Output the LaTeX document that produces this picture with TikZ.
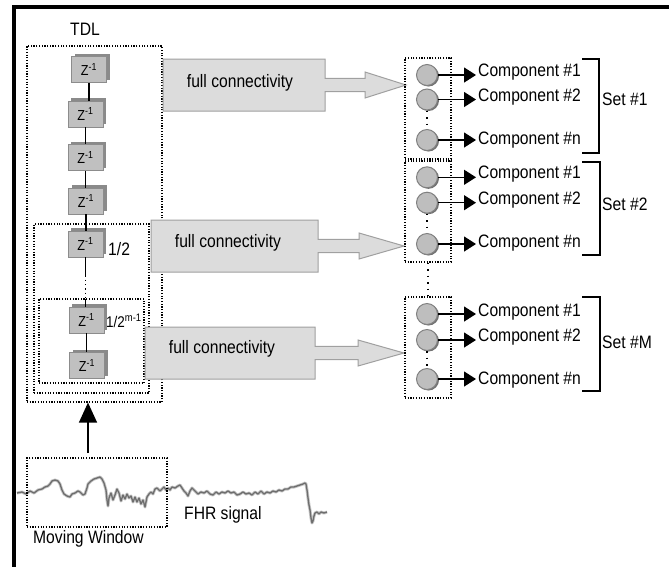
\documentclass[tikz,border=0pt]{standalone}
\usepackage{fontspec}
\setmainfont{Liberation Sans}[FakeStretch=0.87]
\usetikzlibrary{arrows.meta,shadows}
\definecolor{zfill}{HTML}{C0C0C0}
\definecolor{zborder}{HTML}{8C8C8C}
\definecolor{zshadow}{HTML}{8A8A8A}
\definecolor{afill}{HTML}{DCDCDC}
\definecolor{aborder}{HTML}{A0A0A0}
\definecolor{cfill}{HTML}{BEBEBE}
\definecolor{cborder}{HTML}{808080}
\definecolor{cshadow}{HTML}{707070}
\definecolor{wavec}{HTML}{6E6E6E}
\newcommand\fcArrow[5]{%
  \draw[bigarrow] (#1,#5-26) -- (#2,#5-26) -- (#2,#5-6.7) -- (#3,#5-6.7) -- (#3,#5-13) -- (#4,#5)
    -- (#3,#5+13) -- (#3,#5+6.7) -- (#2,#5+6.7) -- (#2,#5+26) -- (#1,#5+26) -- cycle;}
\tikzset{
  lbl/.style={inner sep=0pt, font=\fontsize{18}{20}\selectfont},
  dotbox/.style={draw, line width=1.2pt, dash pattern=on 1.2pt off 1.5pt, inner sep=0pt},
  zbox/.style={draw=zborder, fill=zfill, line width=0.8pt, minimum width=35pt, minimum height=26pt,
    inner sep=0pt, font=\fontsize{14.5}{16}\selectfont,
    general shadow={fill=zshadow, shadow xshift=3pt, shadow yshift=3pt}},
  unit/.style={circle, draw=cborder, fill=cfill, line width=1pt, minimum size=21pt, inner sep=0pt,
    general shadow={fill=cshadow, shadow xshift=1.5pt, shadow yshift=-1pt}},
  link/.style={line width=1.3pt},
  dotline/.style={line width=1.5pt, dash pattern=on 1.5pt off 5pt},
  outarrow/.style={line width=1.3pt, shorten >=2pt, -{Triangle[length=12pt,width=15pt]}},
  bigarrow/.style={draw=aborder, fill=afill, line width=1pt},
  brk/.style={line width=1.5pt},
  wave/.style={draw=wavec, line width=1.3pt, line join=round},
}
\begin{document}
\begin{tikzpicture}[x=1pt,y=-1pt]
\useasboundingbox (0,0) rectangle (669,566);
\fill[white] (0,0) rectangle (669,566);
% frame
\draw[line width=3.8pt] (14,590) -- (14,6.8) -- (690,6.8);

% FHR waveform
\draw[draw=gray!45, line width=3pt, line join=round] plot coordinates {(17,493) (22,492) (26,494) (30,491) (34,493) (38,490) (42,489) (45,487) (48,486) (50,484) (52,481) (55,480) (58,481) (60,484) (62,490) (64,494) (67,496) (70,497) (72,494) (75,493) (78,491) (80,492) (83,495) (85,494) (87,488) (88,484) (91,481) (94,479) (97,478) (100,477) (102,479) (104,483) (106,490) (107,500) (108,506) (109,498) (111,493) (113,500) (115,495) (117,489) (119,493) (121,501) (123,495) (125,499) (127,494) (129,498) (131,496) (133,502) (135,497) (137,502) (139,498) (141,504) (143,500) (145,507) (147,497) (149,494) (151,492) (153,494) (155,489) (157,488) (160,491) (162,489) (164,487) (166,490) (168,488) (170,490) (172,487) (175,488) (178,486) (180,485) (182,488) (184,491) (186,493) (188,496) (190,491) (192,488) (195,491) (198,494) (201,492) (204,493) (207,491) (210,494) (213,495) (216,492) (219,494) (222,492) (225,493) (228,491) (231,493) (234,492) (237,495) (240,494) (243,492) (246,494) (249,493) (252,495) (255,492) (258,494) (261,491) (264,494) (267,492) (270,493) (273,491) (276,492) (279,490) (282,491) (285,489) (288,489) (291,487) (294,487) (297,486) (300,485) (303,484) (305,483) (306,484) (307,490) (308,498) (309,505) (310,510) (311,518) (312,523) (313,521) (314,516) (315,513) (317,512) (319,514) (321,512) (324,513) (327,512)};
\draw[wave] plot coordinates {(17,493) (22,492) (26,494) (30,491) (34,493) (38,490) (42,489) (45,487) (48,486) (50,484) (52,481) (55,480) (58,481) (60,484) (62,490) (64,494) (67,496) (70,497) (72,494) (75,493) (78,491) (80,492) (83,495) (85,494) (87,488) (88,484) (91,481) (94,479) (97,478) (100,477) (102,479) (104,483) (106,490) (107,500) (108,506) (109,498) (111,493) (113,500) (115,495) (117,489) (119,493) (121,501) (123,495) (125,499) (127,494) (129,498) (131,496) (133,502) (135,497) (137,502) (139,498) (141,504) (143,500) (145,507) (147,497) (149,494) (151,492) (153,494) (155,489) (157,488) (160,491) (162,489) (164,487) (166,490) (168,488) (170,490) (172,487) (175,488) (178,486) (180,485) (182,488) (184,491) (186,493) (188,496) (190,491) (192,488) (195,491) (198,494) (201,492) (204,493) (207,491) (210,494) (213,495) (216,492) (219,494) (222,492) (225,493) (228,491) (231,493) (234,492) (237,495) (240,494) (243,492) (246,494) (249,493) (252,495) (255,492) (258,494) (261,491) (264,494) (267,492) (270,493) (273,491) (276,492) (279,490) (282,491) (285,489) (288,489) (291,487) (294,487) (297,486) (300,485) (303,484) (305,483) (306,484) (307,490) (308,498) (309,505) (310,510) (311,518) (312,523) (313,521) (314,516) (315,513) (317,512) (319,514) (321,512) (324,513) (327,512)};

% TDL boxes
\node[lbl, anchor=base west] (tdllbl) at (70,35) {TDL};
\node[dotbox, minimum width=135pt, minimum height=356pt] (tdlbox) at (94.5,224) {};
\node[dotbox, minimum width=115pt, minimum height=169pt] (midbox) at (91.5,308.5) {};
\node[dotbox, minimum width=105pt, minimum height=84pt] (innbox) at (91.5,341) {};

% delay units
\node[zbox] (z1) at (89,69.5) {Z\textsuperscript{-1}};
\node[zbox] (z2) at (85.5,114) {Z\textsuperscript{-1}};
\node[zbox] (z3) at (85.5,157.5) {Z\textsuperscript{-1}};
\node[zbox] (z4) at (86,201) {Z\textsuperscript{-1}};
\node[zbox] (z5) at (85.5,244) {Z\textsuperscript{-1}};
\node[zbox] (z6) at (86.5,320) {Z\textsuperscript{-1}};
\node[zbox] (z7) at (87,365.5) {Z\textsuperscript{-1}};
\draw[link] (z1.south) -- (z1.south |- z2.north);
\draw[link] (z2.south) -- (z2.south |- z3.north);
\draw[link] (z3.south) -- (z3.south |- z4.north);
\draw[link] (z4.south) -- (z4.south |- z5.north);
\draw[link] (z5.south) -- ([yshift=-18pt]z5.south) coordinate (ga);
\draw[line width=1.3pt, dash pattern=on 1.3pt off 3pt] (ga) -- ([yshift=-42pt]z5.south) coordinate (gb);
\draw[link] (gb) -- (gb |- z6.north);
\draw[link] (z6.south) -- (z6.south |- z7.north);
\node[lbl, anchor=base west] (h1) at (108,255) {1/2};
\node[lbl, anchor=base west, font=\fontsize{15.5}{17}\selectfont] (h2) at (106,327) {1/2\textsuperscript{m-1}};

% full connectivity arrows
\fcArrow{163}{325}{365}{406}{85}
\node[lbl, anchor=base] (fc1) at (240,87) {full connectivity};
\fcArrow{151}{318}{359}{404}{246}
\node[lbl, anchor=base] (fc2) at (228,247) {full connectivity};
\fcArrow{145}{315}{358}{404}{353}
\node[lbl, anchor=base] (fc3) at (222,353) {full connectivity};

% output sets
\node[dotbox, minimum width=46pt, minimum height=101pt] (set1) at (428,108.5) {};
\node[dotbox, minimum width=46pt, minimum height=101pt] (set2) at (428,211.5) {};
\node[dotbox, minimum width=46pt, minimum height=101pt] (setM) at (428,347.5) {};

\node[unit] (a1) at (427,75) {};
\node[unit] (a2) at (427,99.5) {};
\node[unit] (a3) at (427,140) {};
\node[unit] (b1) at (427,177.3) {};
\node[unit] (b2) at (427,202.7) {};
\node[unit] (b3) at (427,244) {};
\node[unit] (c1) at (427,314) {};
\node[unit] (c2) at (427,340) {};
\node[unit] (c3) at (427,379) {};
\draw[dotline] (a2.south) -- (a3.north);
\draw[dotline] (b2.south) -- (b3.north);
\draw[dotline] (c2.south) -- (c3.north);
\draw[dotline] (set2.south) -- (setM.north);

\node[lbl, anchor=base west] (ta1) at (478,76) {Component \#1};
\node[lbl, anchor=base west] (ta2) at (478,101) {Component \#2};
\node[lbl, anchor=base west] (ta3) at (478,144) {Component \#n};
\node[lbl, anchor=base west] (tb1) at (478,178) {Component \#1};
\node[lbl, anchor=base west] (tb2) at (478,204) {Component \#2};
\node[lbl, anchor=base west] (tb3) at (478,247) {Component \#n};
\node[lbl, anchor=base west] (tc1) at (478,316) {Component \#1};
\node[lbl, anchor=base west] (tc2) at (478,341.7) {Component \#2};
\node[lbl, anchor=base west] (tc3) at (478,384) {Component \#n};
\foreach \u/\t in {a1/ta1,a2/ta2,a3/ta3,b1/tb1,b2/tb2,b3/tb3,c1/tc1,c2/tc2,c3/tc3}
  \draw[outarrow] (\u.east) -- (\u.east -| \t.west);

\draw[brk] (582,59) -- (599,59) -- (599,153) -- (582,153);
\draw[brk] (582,162) -- (600,162) -- (600,255) -- (582,255);
\draw[brk] (582,297) -- (600,297) -- (600,391) -- (582,391);
\node[lbl, anchor=base west] (s1) at (602,105) {Set \#1};
\node[lbl, anchor=base west] (s2) at (602,210) {Set \#2};
\node[lbl, anchor=base west] (sM) at (602,348) {Set \#M};

% moving window
\node[dotbox, minimum width=140pt, minimum height=69pt] (mw) at (97,492.5) {};
\coordinate (arrbase) at (88,453);
\draw[line width=1.3pt, -{Triangle[length=20pt,width=18pt]}] (arrbase) -- (arrbase |- tdlbox.south);
\node[lbl, anchor=base west] (mwl) at (33,543) {Moving Window};
\node[lbl, anchor=base west] (fhr) at (184,519) {FHR signal};
\end{tikzpicture}
\end{document}
